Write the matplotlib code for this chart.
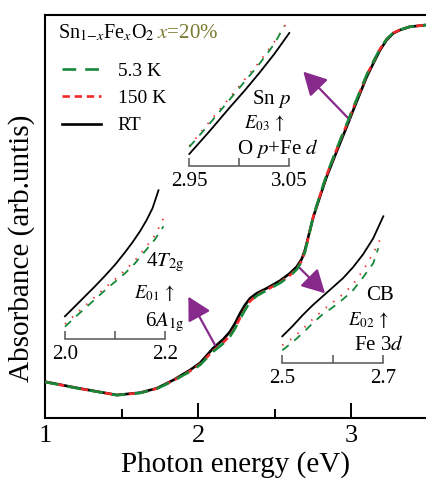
import matplotlib
matplotlib.use("Agg")
import matplotlib.pyplot as plt

plt.rcParams['font.family'] = ['Liberation Serif', 'DejaVu Serif']
plt.rcParams['mathtext.fontset'] = 'stix'

# ---------------- DATA ----------------
energy = [1.000, 1.229, 1.359, 1.469, 1.621, 1.730, 1.839, 1.948, 2.013, 2.100,
          2.165, 2.209, 2.242, 2.275, 2.307, 2.340, 2.384, 2.449, 2.536, 2.601,
          2.645, 2.678, 2.699, 2.719, 2.754, 2.797, 2.841, 2.884, 2.928, 2.972,
          3.015, 3.059, 3.103, 3.146, 3.190, 3.233, 3.276, 3.320, 3.386, 3.490]
abs_rt = [0.363, 0.295, 0.260, 0.230, 0.253, 0.297, 0.380, 0.480, 0.550, 0.700,
          0.787, 0.863, 0.947, 1.047, 1.130, 1.197, 1.247, 1.297, 1.373, 1.447,
          1.513, 1.590, 1.680, 1.800, 2.013, 2.213, 2.413, 2.580, 2.747, 2.913,
          3.080, 3.247, 3.413, 3.547, 3.680, 3.780, 3.847, 3.880, 3.913, 3.930]
abs_5k = [0.360, 0.292, 0.258, 0.228, 0.250, 0.292, 0.372, 0.465, 0.530, 0.665,
          0.745, 0.815, 0.895, 0.990, 1.080, 1.160, 1.222, 1.277, 1.350, 1.420,
          1.485, 1.565, 1.660, 1.790, 2.020, 2.230, 2.435, 2.605, 2.775, 2.940,
          3.105, 3.270, 3.435, 3.565, 3.695, 3.790, 3.852, 3.882, 3.913, 3.930]
abs_150k = [0.361, 0.293, 0.259, 0.229, 0.251, 0.294, 0.375, 0.470, 0.537, 0.675,
            0.755, 0.825, 0.905, 1.000, 1.090, 1.168, 1.228, 1.282, 1.356, 1.428,
            1.492, 1.572, 1.666, 1.793, 2.018, 2.226, 2.430, 2.600, 2.770, 2.935,
            3.100, 3.265, 3.430, 3.561, 3.692, 3.788, 3.851, 3.882, 3.913, 3.930]

# inset 1 : E01 (6A1g -> 4T2g)
in1_x_rt = [2.000, 2.020, 2.040, 2.060, 2.080, 2.100, 2.120, 2.135, 2.150, 2.163, 2.175, 2.187]
in1_y_rt = [0.23, 0.33, 0.43, 0.53, 0.635, 0.745, 0.87, 0.97, 1.08, 1.19, 1.31, 1.49]
in1_x_5k = [2.000, 2.020, 2.040, 2.060, 2.080, 2.100, 2.120, 2.140, 2.160, 2.180, 2.197]
in1_y_5k = [0.126, 0.22, 0.31, 0.40, 0.49, 0.575, 0.66, 0.76, 0.88, 1.00, 1.13]
in1_x_150k = [2.000, 2.020, 2.040, 2.060, 2.080, 2.100, 2.120, 2.140, 2.160, 2.180, 2.197]
in1_y_150k = [0.153, 0.245, 0.335, 0.425, 0.515, 0.60, 0.69, 0.79, 0.91, 1.04, 1.21]

# inset 2 : E02 (Fe 3d -> CB)
in2_x_rt = [2.500, 2.520, 2.540, 2.560, 2.580, 2.600, 2.620, 2.640, 2.660, 2.680, 2.700]
in2_y_rt = [0.27, 0.37, 0.48, 0.58, 0.67, 0.76, 0.85, 0.96, 1.09, 1.25, 1.47]
in2_x_5k = [2.500, 2.520, 2.540, 2.560, 2.580, 2.600, 2.620, 2.640, 2.660, 2.680, 2.690]
in2_y_5k = [0.13, 0.21, 0.30, 0.40, 0.49, 0.56, 0.64, 0.73, 0.86, 1.00, 1.15]
in2_x_150k = [2.500, 2.520, 2.540, 2.560, 2.580, 2.600, 2.620, 2.640, 2.660, 2.680, 2.699]
in2_y_150k = [0.18, 0.25, 0.34, 0.44, 0.53, 0.61, 0.69, 0.79, 0.93, 1.10, 1.29]

# inset 3 : E03 (O p + Fe d -> Sn p)
in3_x_rt = [2.950, 2.970, 2.990, 3.005, 3.020, 3.035, 3.050]
in3_y_rt = [0.12, 0.345, 0.58, 0.75, 0.93, 1.12, 1.33]
in3_x_5k = [2.950, 2.970, 2.990, 3.005, 3.020, 3.035, 3.045]
in3_y_5k = [0.19, 0.42, 0.66, 0.84, 1.02, 1.22, 1.40]
in3_x_150k = [2.950, 2.970, 2.990, 3.005, 3.020, 3.035, 3.048]
in3_y_150k = [0.20, 0.44, 0.68, 0.86, 1.04, 1.24, 1.44]

GREEN = '#15883a'
RED = '#f02a2a'
PURPLE = '#882a8c'
W, H = 426, 482


def fx(px):
    return px / W


def fy(py):
    return 1 - py / H


# ---------------- MAIN ----------------
fig = plt.figure(figsize=(4.26, 4.82), dpi=100)
ax = fig.add_axes([fx(45), fy(418), fx(381), 403 / H])

ax.plot(energy, abs_rt, color='black', lw=1.9, label='RT', zorder=3)
ax.plot(energy, abs_150k, color=RED, lw=1.9, dashes=(2.8, 1.8), label='150 K', zorder=4)
ax.plot(energy, abs_5k, color=GREEN, lw=1.9, dashes=(5.2, 3.4), label='5.3 K', zorder=5)

ax.set_xlim(1, 3.49)
ax.set_ylim(0, 4.03)
ax.set_xticks([1, 2, 3])
ax.set_xticks([1.5, 2.5], minor=True)
ax.set_yticks([])
ax.tick_params(axis='x', which='major', direction='in', length=11, width=1.4,
               labelsize=19, pad=5)
ax.tick_params(axis='x', which='minor', direction='in', length=6.5, width=1.4)
for s in ['left', 'bottom', 'top']:
    ax.spines[s].set_linewidth(1.5)
ax.spines['right'].set_visible(False)

ax.set_xlabel('Photon energy (eV)', fontsize=21, labelpad=3)
ax.set_ylabel('Absorbance (arb.untis)', fontsize=21)
ax.yaxis.set_label_coords(-0.025, 0.42)

# legend
h, l = ax.get_legend_handles_labels()
leg = ax.legend(h[::-1], l[::-1], loc='upper left', bbox_to_anchor=(0.045, 0.883),
                frameon=False, fontsize=14, handlelength=2.0, handletextpad=0.85,
                labelspacing=0.5, borderpad=0, borderaxespad=0)
ax.text(0.034, 0.943, r'Sn$_{1\mathrm{-}x}$Fe$_{x}$O$_{2}$', transform=ax.transAxes,
        fontsize=14.5, va='baseline')
ax.text(0.294, 0.943, r'$x$=20%', transform=ax.transAxes, fontsize=15,
        va='baseline', color='#7a7a30')

# arrows
arrow_kw = dict(arrowstyle='-|>,head_length=0.7,head_width=0.38', color=PURPLE,
                lw=1.6, shrinkA=0, shrinkB=0, mutation_scale=20)
ax.annotate('', xy=(1.937, 1.213), xytext=(2.111, 0.73), arrowprops=arrow_kw)
ax.annotate('', xy=(2.830, 1.247), xytext=(2.656, 1.513), arrowprops=arrow_kw)
ax.annotate('', xy=(2.688, 3.463), xytext=(2.993, 2.98), arrowprops=arrow_kw)


# ---------------- INSETS ----------------
def inset(left, right, base, xlim, ticks, labels, xs, ys):
    a = fig.add_axes([fx(left), fy(base), fx(right - left), 150 / H])
    a.patch.set_alpha(0)
    (x_rt, x_5k, x_150k), (y_rt, y_5k, y_150k) = xs, ys
    a.plot(x_rt, y_rt, color='black', lw=1.3, clip_on=False)
    a.plot(x_150k, y_150k, color=RED, lw=1.3, dashes=(0.8, 4.5), clip_on=False)
    a.plot(x_5k, y_5k, color=GREEN, lw=1.3, dashes=(4.5, 4.0), clip_on=False)
    a.set_xlim(*xlim)
    a.set_ylim(0, 1.5)
    for s in ['left', 'right', 'top']:
        a.spines[s].set_visible(False)
    a.spines['bottom'].set_color('#555555')
    a.spines['bottom'].set_linewidth(1.1)
    a.set_yticks([])
    a.set_xticks(ticks)
    a.set_xticklabels(labels)
    a.tick_params(axis='x', direction='in', length=5.5, width=1.1, color='#555555',
                  labelsize=15, pad=4)
    return a


inset(65, 165, 339.3, (2.0, 2.2), [2.0, 2.1, 2.2], ['2.0', '', '2.2'],
      (in1_x_rt, in1_x_5k, in1_x_150k), (in1_y_rt, in1_y_5k, in1_y_150k))
inset(282.3, 383.3, 363.3, (2.5, 2.7), [2.5, 2.6, 2.7], ['2.5', '', '2.7'],
      (in2_x_rt, in2_x_5k, in2_x_150k), (in2_y_rt, in2_y_5k, in2_y_150k))
inset(189.3, 289.3, 166, (2.95, 3.05), [2.95, 3.0, 3.05], ['2.95', '', '3.05'],
      (in3_x_rt, in3_x_5k, in3_x_150k), (in3_y_rt, in3_y_5k, in3_y_150k))

# transition labels
txt = dict(ha='center', va='center', fontsize=15)
small = dict(ha='center', va='center', fontsize=13.5)
fig.text(fx(165), fy(262), r'4$T_{\mathrm{2g}}$', **txt)
fig.text(fx(154), fy(293), r'$E_{01}\,\uparrow$', **small)
fig.text(fx(165), fy(322), r'6$A_{\mathrm{1g}}$', **txt)

fig.text(fx(380), fy(295), 'CB', **txt)
fig.text(fx(368), fy(320), r'$E_{02}\,\uparrow$', **small)
fig.text(fx(379), fy(345), r'Fe 3$d$', **txt)

fig.text(fx(272), fy(99), r'Sn $p$', **txt)
fig.text(fx(264), fy(123), r'$E_{03}\,\uparrow$', **small)
fig.text(fx(278), fy(148), r'O $p$+Fe $d$', **txt)

fig.savefig('out.png', dpi=100)
